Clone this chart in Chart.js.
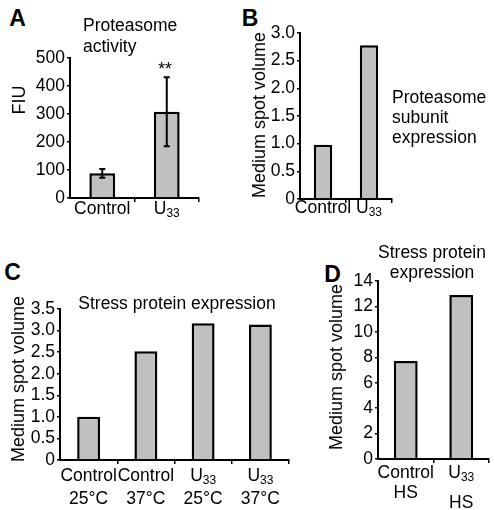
<!DOCTYPE html>
<html><head><meta charset="utf-8">
<script src="https://cdn.jsdelivr.net/npm/chart.js@4.4.1/dist/chart.umd.min.js"></script>
<style>
html,body{margin:0;padding:0;background:#fff;}
#page{position:relative;width:495px;height:510px;overflow:hidden;font-family:"Liberation Sans",Arial,Helvetica,sans-serif;color:#000;}
canvas{position:absolute;}
.t{position:absolute;white-space:nowrap;font-size:17.5px;line-height:20px;}
.c{transform:translate(-50%,-50%);text-align:center;}
.rot{font-size:18px;transform:translate(-50%,-50%) rotate(-90deg);}
.L{font-weight:bold;font-size:23px;line-height:23px;transform:translate(-50%,-50%);}
</style></head><body><div id="page">
<canvas id="cA" style="left:28px;top:45px;" width="177" height="185"></canvas>
<canvas id="cB" style="left:262px;top:20px;" width="136" height="210"></canvas>
<canvas id="cC" style="left:25px;top:296px;" width="270" height="214"></canvas>
<canvas id="cD" style="left:345px;top:268px;" width="150" height="242"></canvas>

<div class="t L" style="left:17.5px;top:17.5px;">A</div>
<div class="t L" style="left:250px;top:17.5px;">B</div>
<div class="t L" style="left:12.5px;top:272px;">C</div>
<div class="t L" style="left:332.5px;top:273.5px;">D</div>

<div class="t" style="left:83px;top:15px;line-height:21px;">Proteasome<br>activity</div>
<div class="t rot" style="left:19px;top:100px;">FIU</div>
<div class="t c" style="left:165px;top:69px;">**</div>

<div class="t" style="left:392px;top:87px;">Proteasome<br>subunit<br>expression</div>
<div class="t rot" style="left:259px;top:115px;">Medium spot volume</div>

<div class="t c" style="left:177px;top:303px;">Stress protein expression</div>
<div class="t rot" style="left:18px;top:379px;">Medium spot volume</div>

<div class="t c" style="left:432px;top:262px;">Stress protein<br>expression</div>
<div class="t rot" style="left:336px;top:367px;">Medium spot volume</div>
</div>
<script>
// ---- Panel A: Proteasome activity ----
const aCategories = [['Control'], ['U_33']];
const aValues = [88, 308];
const aErrors = [16, 123];
const aTicks = [0, 100, 200, 300, 400, 500];
const aTickLabels = ['0', '100', '200', '300', '400', '500'];

// ---- Panel B: Proteasome subunit expression ----
const bCategories = [['Control'], ['U_33']];
const bValues = [0.98, 2.78];
const bTicks = [0, 0.5, 1, 1.5, 2, 2.5, 3];
const bTickLabels = ['0', '0.5', '1.0', '1.5', '2.0', '2.5', '3.0'];

// ---- Panel C: Stress protein expression ----
const cCategories = [['Control', '25°C'], ['Control', '37°C'], ['U_33', '25°C'], ['U_33', '37°C']];
const cValues = [1.0, 2.52, 3.17, 3.14];
const cTicks = [0, 0.5, 1, 1.5, 2, 2.5, 3, 3.5];
const cTickLabels = ['0', '0.5', '1.0', '1.5', '2.0', '2.5', '3.0', '3.5'];

// ---- Panel D: Stress protein expression (HS) ----
const dCategories = [['Control', 'HS'], ['U_33', 'HS']];
const dValues = [7.7, 12.9];
const dTicks = [0, 2, 4, 6, 8, 10, 12, 14];
const dTickLabels = ['0', '2', '4', '6', '8', '10', '12', '14'];

const FF = '"Liberation Sans", Arial, Helvetica, sans-serif';
const FS = 17.5, SUB = 12;
Chart.defaults.font.family = FF;
Chart.defaults.font.size = FS;
Chart.defaults.color = '#000';

const xLabelPlugin = {
  id: 'xLabels',
  afterDraw(chart, args, opts) {
    const ctx = chart.ctx, xs = chart.scales.x, bottom = chart.chartArea.bottom;
    ctx.save();
    ctx.fillStyle = '#000';
    ctx.textBaseline = 'middle';
    ctx.textAlign = 'left';
    opts.cats.forEach((lines, i) => {
      const x = xs.getPixelForValue(i);
      const gap = Array.isArray(opts.gap) ? opts.gap[i] : opts.gap;
      lines.forEach((line, j) => {
        const y = bottom + opts.first + j * gap;
        const parts = line.split('_');
        const main = parts[0], sub = parts[1];
        ctx.font = FS + 'px ' + FF;
        const wm = ctx.measureText(main).width;
        let ws = 0;
        if (sub) { ctx.font = SUB + 'px ' + FF; ws = ctx.measureText(sub).width; }
        const x0 = x - (wm + ws) / 2;
        ctx.font = FS + 'px ' + FF;
        ctx.fillText(main, x0, y);
        if (sub) { ctx.font = SUB + 'px ' + FF; ctx.fillText(sub, x0 + wm, y + 5); }
      });
    });
    ctx.restore();
  }
};

const errPlugin = {
  id: 'errBars',
  afterDatasetsDraw(chart, args, opts) {
    if (!opts || !opts.errors) return;
    const ctx = chart.ctx, ys = chart.scales.y;
    const meta = chart.getDatasetMeta(0);
    const vals = chart.data.datasets[0].data;
    ctx.save();
    ctx.strokeStyle = '#000';
    ctx.lineWidth = 2;
    meta.data.forEach((bar, i) => {
      const e = opts.errors[i];
      const x = bar.x;
      const yh = ys.getPixelForValue(vals[i] + e), yl = ys.getPixelForValue(vals[i] - e);
      ctx.beginPath();
      ctx.moveTo(x, yh); ctx.lineTo(x, yl);
      ctx.moveTo(x - 3, yh); ctx.lineTo(x + 3, yh);
      ctx.moveTo(x - 3, yl); ctx.lineTo(x + 3, yl);
      ctx.stroke();
    });
    ctx.restore();
  }
};

function makeChart(id, cats, values, ticks, tickLabels, g) {
  const n = cats.length;
  return new Chart(document.getElementById(id), {
    type: 'bar',
    data: {
      labels: cats.map(c => c.join(' ')),
      datasets: [{
        data: values,
        backgroundColor: '#c0c0c0',
        borderColor: '#000',
        borderWidth: 2.5,
        borderSkipped: 'bottom',
        barPercentage: g.barPct,
        categoryPercentage: 1
      }]
    },
    options: {
      responsive: false,
      animation: false,
      events: [],
      layout: { padding: { top: g.padTop, right: g.padRight, left: 0, bottom: 0 } },
      plugins: {
        legend: { display: false },
        tooltip: { enabled: false },
        title: { display: false },
        xLabels: { cats: cats, first: g.first, gap: g.gap },
        errBars: { errors: g.errors || null }
      },
      scales: {
        x: {
          type: 'category',
          offset: true,
          ticks: { display: false },
          grid: {
            display: true, drawOnChartArea: false, offset: true, tickLength: 4, lineWidth: 1.5,
            color: c => (c.index === 0 || c.index === n) ? 'rgba(0,0,0,0)' : '#000'
          },
          border: { display: true, color: '#000', width: 2 },
          afterFit: s => { s.height = g.xH; }
        },
        y: {
          min: 0,
          max: ticks[ticks.length - 1],
          afterBuildTicks: s => { s.ticks = ticks.map(v => ({ value: v })); },
          ticks: {
            autoSkip: false,
            padding: 2,
            font: { size: FS },
            color: '#000',
            callback: (v, i) => tickLabels[i]
          },
          grid: { display: true, drawOnChartArea: false, tickLength: 3, lineWidth: 1.5, color: '#000' },
          border: { display: true, color: '#000', width: 2 },
          afterFit: s => { s.width = g.yW; }
        }
      }
    },
    plugins: [xLabelPlugin, errPlugin]
  });
}

makeChart('cA', aCategories, aValues, aTicks, aTickLabels,
  { barPct: 0.4, padTop: 13, padRight: 6, yW: 42, xH: 32, first: 11, gap: 20, errors: aErrors });
makeChart('cB', bCategories, bValues, bTicks, bTickLabels,
  { barPct: 0.4, padTop: 13, padRight: 6, yW: 38, xH: 31, first: 9, gap: 20 });
makeChart('cC', cCategories, cValues, cTicks, cTickLabels,
  { barPct: 0.4, padTop: 13, padRight: 6, yW: 35, xH: 50, first: 16, gap: 23 });
makeChart('cD', dCategories, dValues, dTicks, dTickLabels,
  { barPct: 0.43, padTop: 13, padRight: 6, yW: 33, xH: 51, first: 14, gap: [20, 30] });
</script>
</body></html>
